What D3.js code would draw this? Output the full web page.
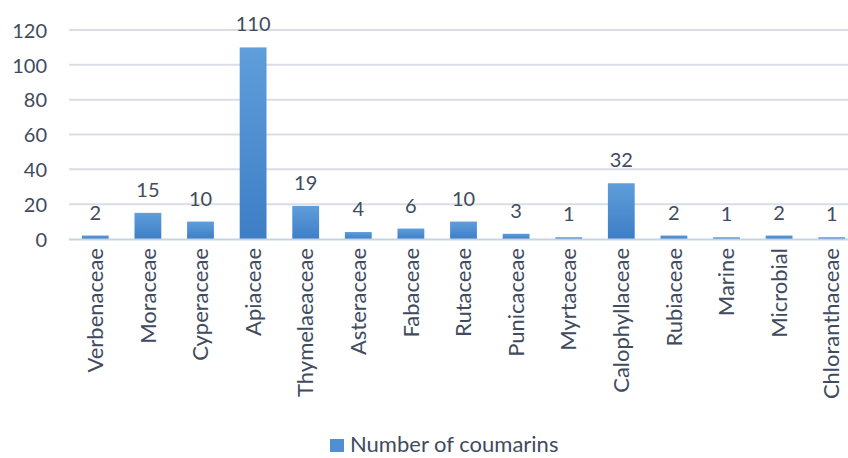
<!DOCTYPE html>
<html>
<head>
<meta charset="utf-8">
<script src="https://cdn.jsdelivr.net/npm/d3@7"></script>
<style>
  body { margin: 0; background: #fff; }
  text { font-family: Lato, "Open Sans", sans-serif; fill: #414b5e; }
</style>
</head>
<body>
<svg id="chart" width="848" height="458"></svg>
<script>
var categories = ["Verbenaceae", "Moraceae", "Cyperaceae", "Apiaceae", "Thymelaeaceae",
    "Asteraceae", "Fabaceae", "Rutaceae", "Punicaceae", "Myrtaceae",
    "Calophyllaceae", "Rubiaceae", "Marine", "Microbial", "Chloranthaceae"];
var counts = [2, 15, 10, 110, 19, 4, 6, 10, 3, 1, 32, 2, 1, 2, 1];
var yTicks = [0, 20, 40, 60, 80, 100, 120];
var seriesName = "Number of coumarins";

var svg = d3.select("#chart"),
    plotLeft = 69,
    plotRight = 858,
    plotTop = 30,
    plotBottom = 239;

var defs = svg.append("defs");
var grad = defs.append("linearGradient")
    .attr("id", "barGrad")
    .attr("x1", 0).attr("y1", 0).attr("x2", 0).attr("y2", 1);
grad.append("stop").attr("offset", "0%").attr("stop-color", "#5f9edb");
grad.append("stop").attr("offset", "100%").attr("stop-color", "#3d7ec6");

var x = d3.scaleBand()
    .domain(categories)
    .range([plotLeft, plotRight])
    .paddingInner(0.49)
    .paddingOuter(0.245);

var y = d3.scaleLinear()
    .domain([0, 120])
    .range([plotBottom, plotTop]);

// gridlines
svg.append("g")
    .selectAll("line")
    .data(yTicks.slice(1))
    .enter().append("line")
    .attr("x1", plotLeft)
    .attr("x2", plotRight)
    .attr("y1", function(d) { return y(d); })
    .attr("y2", function(d) { return y(d); })
    .attr("stroke", "#d9dee6")
    .attr("stroke-width", 2);

// y axis labels
var yAxis = d3.axisLeft(y).tickValues(yTicks).tickSize(0).tickPadding(22);
var yg = svg.append("g")
    .attr("transform", "translate(" + plotLeft + ",0)")
    .call(yAxis);
yg.select(".domain").remove();
yg.selectAll("text")
    .style("font-size", "20px")
    .attr("dy", "0.36em");

// bars
svg.append("g")
    .selectAll("rect")
    .data(counts)
    .enter().append("rect")
    .attr("x", function(d, i) { return x(categories[i]); })
    .attr("width", x.bandwidth())
    .attr("y", function(d) { return y(d); })
    .attr("height", function(d) { return plotBottom - y(d); })
    .attr("fill", "url(#barGrad)");

// baseline
svg.append("line")
    .attr("x1", plotLeft)
    .attr("x2", plotRight)
    .attr("y1", plotBottom + 0.5)
    .attr("y2", plotBottom + 0.5)
    .attr("stroke", "#c6d3e4")
    .attr("stroke-width", 2);

// value labels
svg.append("g")
    .selectAll("text")
    .data(counts)
    .enter().append("text")
    .attr("x", function(d, i) { return x(categories[i]) + x.bandwidth() / 2; })
    .attr("y", function(d) { return y(d) - 16; })
    .attr("text-anchor", "middle")
    .style("font-size", "20px")
    .text(function(d) { return d; });

// category labels
var xAxis = d3.axisBottom(x).tickSize(0).tickPadding(0);
var xg = svg.append("g")
    .attr("transform", "translate(0," + plotBottom + ")")
    .call(xAxis);
xg.select(".domain").remove();
xg.selectAll("text")
    .style("font-size", "22px")
    .attr("text-anchor", "end")
    .attr("transform", "rotate(-90)")
    .attr("x", -9)
    .attr("y", 0)
    .attr("dy", "0.35em");

// legend
var legend = svg.append("g").attr("transform", "translate(330,439)");
legend.append("rect")
    .attr("width", 14)
    .attr("height", 13)
    .attr("fill", "#4f8fd2");
legend.append("text")
    .attr("x", 20)
    .attr("y", 13)
    .style("font-size", "22px")
    .text(seriesName);
</script>
</body>
</html>
